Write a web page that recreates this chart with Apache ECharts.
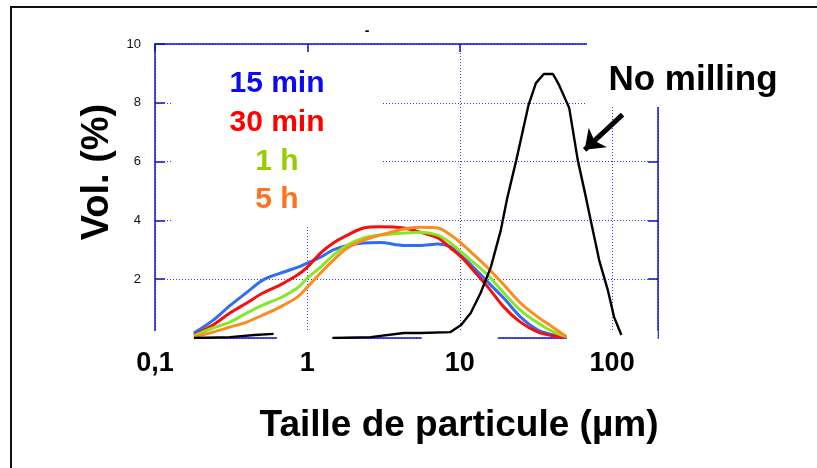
<!DOCTYPE html>
<html>
<head>
<meta charset="utf-8">
<script src="https://cdn.jsdelivr.net/npm/echarts@6/dist/echarts.min.js"></script>
<style>
  html, body { margin: 0; padding: 0; background: #fff; }
  #chart { width: 817px; height: 468px; }
</style>
</head>
<body>
<div id="chart"></div>
<script>
// Particle size (µm) sampled along the milled-powder curves
const sizes = [0.18, 0.24, 0.31, 0.40, 0.51, 0.66, 0.86, 1.0, 1.22, 1.48, 1.83, 2.34, 3.0,
               4.3, 5.5, 7.2, 8.7, 10.2, 11.8, 15.3, 19.5, 25, 32.6, 41.5, 50];

// Volume fraction (%) for each milling time
const vol15min = [0.17, 0.6, 1.1, 1.55, 1.97, 2.2, 2.4, 2.55, 2.75, 3.0, 3.15, 3.23, 3.25,
                  3.15, 3.15, 3.2, 3.1, 2.8, 2.5, 1.9, 1.35, 0.72, 0.27, 0.1, 0.05];
const vol30min = [0.1, 0.44, 0.85, 1.19, 1.53, 1.8, 2.14, 2.41, 2.89, 3.23, 3.5, 3.74, 3.78,
                  3.74, 3.6, 3.4, 3.06, 2.76, 2.41, 1.73, 1.05, 0.54, 0.2, 0.07, 0.03];
const vol1h    = [0.07, 0.34, 0.54, 0.85, 1.12, 1.36, 1.7, 2.04, 2.41, 2.82, 3.16, 3.4, 3.5,
                  3.57, 3.6, 3.5, 3.23, 2.93, 2.65, 2.14, 1.53, 0.95, 0.51, 0.2, 0.05];
const vol5h    = [0.03, 0.2, 0.37, 0.54, 0.78, 1.05, 1.39, 1.73, 2.21, 2.65, 3.06, 3.33, 3.5,
                  3.71, 3.77, 3.74, 3.5, 3.23, 2.93, 2.38, 1.8, 1.19, 0.71, 0.34, 0.05];

// Unmilled powder: own size grid (null marks the break in the trace)
const rawSizes = [0.18, 0.31, 0.45, 0.6, 0.9, 1.46, 2.6, 4.3, 5.5, 8.7, 10.2, 11.8, 13.7, 16.0,
                  18.6, 20.5, 23.5, 28.3, 31.6, 35.6, 40.9, 44.9, 52.3, 59.5, 67.2, 72.4, 82.2,
                  93.7, 103, 115];
const volRaw   = [0, 0.03, 0.1, 0.14, null, 0, 0.03, 0.17, 0.17, 0.2, 0.44, 0.85, 1.53, 2.41,
                  3.67, 4.76, 6.05, 7.93, 8.67, 8.98, 8.98, 8.6, 7.82, 6.05, 4.8, 4.0, 2.65,
                  1.63, 0.71, 0.1];

// Arrow pointing at the unmilled curve: [size, vol] tail and head
const arrowTail = [117, 7.6];
const arrowHead = [66, 6.4];

const xTickText = { '-1': '0,1', '0': '1', '1': '10', '2': '100' };
const seriesNames = ['15 min', '30 min', '1 h', '5 h'];

const FONT = '"Liberation Sans", Arial, Helvetica, sans-serif';
const AXIS_BLUE = '#1010d8';
const GRID_BLUE = '#3a3ad0';

function pairs(xs, ys) {
  return xs.map((x, i) => [x, ys[i] === null ? '-' : ys[i]]);
}

function lineSeries(name, ys, color) {
  return {
    name: name,
    type: 'line',
    data: pairs(sizes, ys),
    showSymbol: false,
    smooth: 0.3,
    lineStyle: { color: color, width: 3 },
    itemStyle: { color: color },
    z: 3
  };
}

function decadeLabel(v) {
  const e = Math.log10(v);
  const r = Math.round(e);
  if (Math.abs(e - r) > 1e-6) return '';
  return xTickText[String(r)] || '';
}

const chart = echarts.init(document.getElementById('chart'), null, { renderer: 'canvas' });

chart.setOption({
  animation: false,
  backgroundColor: '#fff',
  grid: { left: 155, right: 159, top: 44, bottom: 130 },
  xAxis: [
    {
      type: 'log', logBase: 10, min: 0.1, max: 200, position: 'bottom',
      axisLine: { show: true, onZero: false, lineStyle: { color: AXIS_BLUE, width: 1.5 } },
      axisTick: { show: false },
      axisLabel: {
        formatter: decadeLabel,
        fontFamily: FONT, fontWeight: 'bold', fontSize: 27, color: '#000',
        backgroundColor: '#fff',
        padding: [19, 23, 4, 23],
        margin: -7
      },
      splitLine: { show: true, lineStyle: { color: GRID_BLUE, type: [1, 2], width: 1 } },
      minorTick: { show: false }
    },
    {
      type: 'log', logBase: 10, min: 0.1, max: 200, position: 'top',
      axisLine: { show: true, onZero: false, lineStyle: { color: AXIS_BLUE, width: 1.5 } },
      axisTick: { show: true, inside: true, length: 8, lineStyle: { color: AXIS_BLUE, width: 1.5 } },
      axisLabel: { show: false },
      splitLine: { show: false }
    }
  ],
  yAxis: [
    {
      type: 'value', min: 0, max: 10, interval: 2, position: 'left',
      axisLine: { show: true, onZero: false, lineStyle: { color: AXIS_BLUE, width: 1.5 } },
      axisTick: { show: true, inside: true, length: 10, lineStyle: { color: AXIS_BLUE, width: 1.5 } },
      axisLabel: {
        formatter: v => (v === 0 ? '' : String(v)),
        fontFamily: FONT, fontSize: 13, color: '#111', margin: 14
      },
      splitLine: { show: true, lineStyle: { color: GRID_BLUE, type: [1, 2], width: 1 } }
    },
    {
      type: 'value', min: 0, max: 10, interval: 2, position: 'right',
      axisLine: { show: true, onZero: false, lineStyle: { color: AXIS_BLUE, width: 1.5 } },
      axisTick: { show: true, inside: true, length: 10, lineStyle: { color: AXIS_BLUE, width: 1.5 } },
      axisLabel: { show: false },
      splitLine: { show: false }
    }
  ],
  series: [
    lineSeries(seriesNames[0], vol15min, '#2f6ef2'),
    lineSeries(seriesNames[1], vol30min, '#f50f0f'),
    lineSeries(seriesNames[2], vol1h, '#86e62a'),
    lineSeries(seriesNames[3], vol5h, '#ff8a1f'),
    {
      name: 'No milling',
      type: 'line',
      data: pairs(rawSizes, volRaw),
      showSymbol: false,
      connectNulls: false,
      lineStyle: { color: '#000', width: 2.4 },
      itemStyle: { color: '#000' },
      z: 3,
      markLine: {
        silent: true,
        symbol: ['none', 'arrow'],
        symbolSize: [20, 18],
        label: { show: false },
        lineStyle: { color: '#000', width: 5, type: 'solid' },
        data: [[{ coord: arrowTail }, { coord: arrowHead }]]
      }
    }
  ],
  graphic: [
    // page frame (only its left and top edges fall inside the view)
    { type: 'polyline', z: 5, shape: { points: [[11, 468], [11, 7], [817, 7]] },
      style: { stroke: '#111', lineWidth: 2, fill: null } },
    // panels behind the annotations
    { type: 'rect', z: 1, shape: { x: 173, y: 52, width: 209, height: 173 }, style: { fill: '#fff' } },
    { type: 'rect', z: 1, shape: { x: 587, y: 28, width: 230, height: 79 }, style: { fill: '#fff' } },
    { type: 'text', z: 4, x: 367, y: 31,
      style: { text: '-', font: 'bold 14px ' + FONT, fill: '#000', align: 'center', verticalAlign: 'middle' } },
    { type: 'text', z: 4, x: 277, y: 84,
      style: { text: seriesNames[0], font: 'bold 30px ' + FONT, fill: '#0b0bf2', align: 'center', verticalAlign: 'middle' } },
    { type: 'text', z: 4, x: 277, y: 123,
      style: { text: seriesNames[1], font: 'bold 30px ' + FONT, fill: '#ff0000', align: 'center', verticalAlign: 'middle' } },
    { type: 'text', z: 4, x: 277, y: 162,
      style: { text: seriesNames[2], font: 'bold 30px ' + FONT, fill: '#99cc00', align: 'center', verticalAlign: 'middle' } },
    { type: 'text', z: 4, x: 277, y: 200,
      style: { text: seriesNames[3], font: 'bold 30px ' + FONT, fill: '#ff7020', align: 'center', verticalAlign: 'middle' } },
    { type: 'text', z: 4, x: 693, y: 80,
      style: { text: 'No milling', font: 'bold 35px ' + FONT, fill: '#000', align: 'center', verticalAlign: 'middle' } },
    { type: 'text', z: 4, x: 98, y: 172, rotation: Math.PI / 2,
      style: { text: 'Vol. (%)', font: 'bold 38px ' + FONT, fill: '#000', align: 'center', verticalAlign: 'middle' } },
    { type: 'text', z: 4, x: 459, y: 426,
      style: { text: 'Taille de particule (µm)', font: 'bold 37px ' + FONT, fill: '#000', align: 'center', verticalAlign: 'middle' } }
  ]
});
</script>
</body>
</html>
